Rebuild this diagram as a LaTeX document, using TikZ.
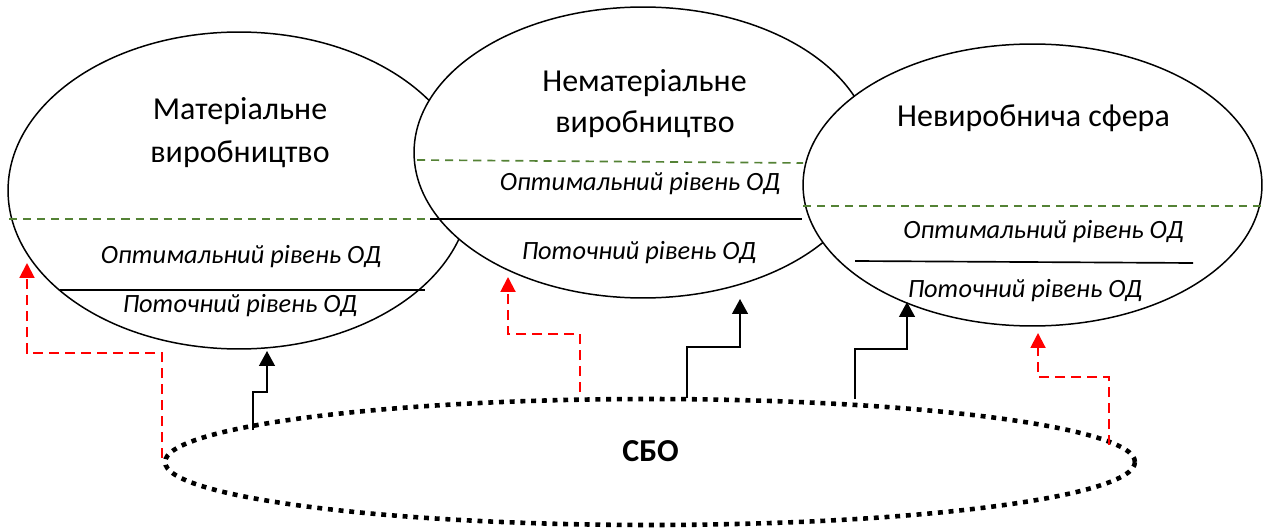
\documentclass[tikz,border=0pt]{standalone}
\usepackage{fontspec}
\setmainfont{Carlito}
\usetikzlibrary{shapes.geometric,arrows.meta}
\definecolor{dgreen}{RGB}{84,130,53}
\begin{document}
\begin{tikzpicture}[x=0.02cm,y=-0.02cm,
  sphere/.style={draw,ellipse,fill=white,line width=0.85pt,inner sep=0pt},
  title/.style={anchor=base,font=\fontsize{18.2}{22}\selectfont},
  level/.style={anchor=base,font=\fontsize{15}{18}\selectfont\itshape},
  optline/.style={draw,dgreen,dashed,line width=0.95pt,dash pattern=on 4.6pt off 3.4pt},
  curline/.style={draw,line width=0.95pt},
  blk/.style={draw,line width=1pt,-{Triangle[width=9pt,length=8.5pt]}},
  rd/.style={draw,red,line width=1.15pt,dash pattern=on 5.7pt off 3.4pt,-{Triangle[width=8.5pt,length=8.5pt]}}]
\useasboundingbox (0,0) rectangle (1263,530);

\node[sphere,minimum width=9.24cm,minimum height=6.34cm] (1) at (239,190.5) {};
\node[sphere,minimum width=9.16cm,minimum height=5.82cm] (2) at (643,152.5) {};
\node[sphere,minimum width=9.18cm,minimum height=5.64cm] (3) at (1032.5,185) {};
\node[draw,ellipse,inner sep=0pt,line width=2.6pt,dash pattern=on 2.8pt off 3.3pt,
  minimum width=19.4cm,minimum height=2.52cm] (0) at (650,462) {};
\node[font=\fontsize{18.2}{20}\selectfont\bfseries] (sbo) at (650.5,451) {СБО};

\path[optline] (9,219) -- (430,219);
\path[optline] (417,160) -- (803,163);
\path[optline] (803,206) -- (1263,206);
\path[curline] (60,290) -- (425,290);
\path[curline] (430,219) -- (802,219);
\path[curline] (855,261) -- (1193,263);

\node[title] (1a) at (240,120) {Матеріальне};
\node[title] (1b) at (240,163) {виробництво};
\node[title] (2a) at (644.5,92) {Нематеріальне};
\node[title] (2b) at (645,133) {виробництво};
\node[title] (3a) at (1033.5,127) {Невиробнича сфера};
\node[level] (1o) at (241,263) {Оптимальний рівень ОД};
\node[level] (1p) at (240,312) {Поточний рівень ОД};
\node[level] (2o) at (640,191) {Оптимальний рівень ОД};
\node[level] (2p) at (639,259) {Поточний рівень ОД};
\node[level] (3o) at (1043.5,238) {Оптимальний рівень ОД};
\node[level] (3p) at (1025,297) {Поточний рівень ОД};

\coordinate (s1) at (253,430);
\coordinate (s2) at (687,398);
\coordinate (s3) at (855,399);
\coordinate (s4) at (162,458);
\coordinate (s5) at (580,392);
\coordinate (s6) at (1109,445);
\coordinate (e1) at (267,351);
\coordinate (e2) at (740,299);
\coordinate (e3) at (907,302);
\coordinate (e4) at (27,263);
\coordinate (e5) at (508,277);
\coordinate (e6) at (1038,333);

\path[blk] (s1) -- ++(0,-38) -| (e1);
\path[blk] (s2) -- ++(0,-51) -| (e2);
\path[blk] (s3) -- ++(0,-50) -| (e3);
\path[rd] (s4) -- ++(0,-105) -| (e4);
\path[rd] (s5) -- ++(0,-58) -| (e5);
\path[rd] (s6) -- ++(0,-68) -| (e6);
\end{tikzpicture}
\end{document}
